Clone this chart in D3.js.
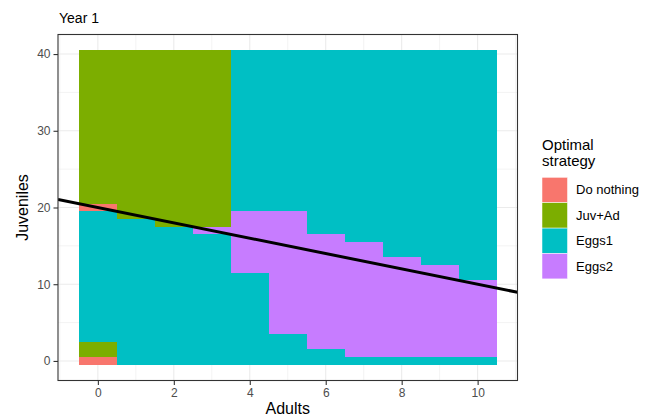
<!DOCTYPE html>
<html>
<head>
<meta charset="utf-8">
<script src="https://cdn.jsdelivr.net/npm/d3@7"></script>
<style>
  body { margin: 0; background: #fff; }
  text { font-family: "Liberation Sans", Arial, sans-serif; }
</style>
</head>
<body>
<svg id="chart"></svg>
<script>
// Legend order and colours (ggplot default hue palette)
const strategies = ['Do nothing', 'Juv+Ad', 'Eggs1', 'Eggs2'];
const colors = ['#F8766D', '#7CAE00', '#00BFC4', '#C77CFF'];

// Runs of tiles per column: [adults, juveniles from, juveniles to]
const doNothing = [[0, 0, 0], [0, 20, 20]];
const juvAd = [[0, 1, 2], [0, 21, 40], [1, 19, 40], [2, 18, 40], [3, 18, 40]];
const eggs1 = [
  [0, 3, 19], [1, 0, 18], [2, 0, 17], [3, 0, 16],
  [4, 0, 11], [4, 20, 40], [5, 0, 3], [5, 20, 40],
  [6, 0, 1], [6, 17, 40], [7, 0, 0], [7, 16, 40],
  [8, 0, 0], [8, 14, 40], [9, 0, 0], [9, 13, 40],
  [10, 0, 0], [10, 11, 40]
];
const eggs2 = [[3, 17, 17], [4, 12, 19], [5, 4, 19], [6, 2, 16], [7, 1, 15], [8, 1, 13], [9, 1, 12], [10, 1, 10]];

// Threshold line: juveniles = intercept + slope * adults
const lineIntercept = 20;
const lineSlope = -1;

const xTicks = [0, 2, 4, 6, 8, 10];
const xMinor = [-1, 1, 3, 5, 7, 9, 11];
const yTicks = [0, 10, 20, 30, 40];
const yMinor = [5, 15, 25, 35];

const tiles = [doNothing, juvAd, eggs1, eggs2].flatMap((runs, i) =>
  runs.map(r => ({ a: r[0], from: r[1], to: r[2], s: strategies[i] })));

// Set up the chart dimensions
const W = 652, H = 416;
const margin = { top: 34.5, right: 134.5, bottom: 35.5, left: 58 };
const width = W - margin.left - margin.right;
const height = H - margin.top - margin.bottom;

const svg = d3.select('#chart')
  .attr('width', W)
  .attr('height', H);

const g = svg.append('g')
  .attr('transform', `translate(${margin.left}, ${margin.top})`);

// Scales (tile extent -0.5..10.5 / -0.5..40.5 plus 5% expansion)
const xScale = d3.scaleLinear().domain([-1.05, 11.05]).range([0, width]);
const yScale = d3.scaleLinear().domain([-2.55, 42.55]).range([height, 0]);
const color = d3.scaleOrdinal().domain(strategies).range(colors);

// Grid
g.selectAll('.xminor').data(xMinor).enter().append('line')
  .attr('x1', d => xScale(d)).attr('x2', d => xScale(d))
  .attr('y1', 0).attr('y2', height)
  .attr('stroke', '#EBEBEB').attr('stroke-width', 0.6);
g.selectAll('.yminor').data(yMinor).enter().append('line')
  .attr('y1', d => yScale(d)).attr('y2', d => yScale(d))
  .attr('x1', 0).attr('x2', width)
  .attr('stroke', '#EBEBEB').attr('stroke-width', 0.6);
g.selectAll('.xmajor').data(xTicks).enter().append('line')
  .attr('x1', d => xScale(d)).attr('x2', d => xScale(d))
  .attr('y1', 0).attr('y2', height)
  .attr('stroke', '#EBEBEB').attr('stroke-width', 1.1);
g.selectAll('.ymajor').data(yTicks).enter().append('line')
  .attr('y1', d => yScale(d)).attr('y2', d => yScale(d))
  .attr('x1', 0).attr('x2', width)
  .attr('stroke', '#EBEBEB').attr('stroke-width', 1.1);

// Tiles
g.selectAll('.tile')
  .data(tiles)
  .enter()
  .append('rect')
  .attr('class', 'tile')
  .attr('x', d => xScale(d.a - 0.5))
  .attr('y', d => yScale(d.to + 0.5))
  .attr('width', d => xScale(d.a + 0.5) - xScale(d.a - 0.5))
  .attr('height', d => yScale(d.from - 0.5) - yScale(d.to + 0.5))
  .attr('fill', d => color(d.s))
  .attr('shape-rendering', 'crispEdges');

// Threshold line, clipped to panel
svg.append('clipPath').attr('id', 'panel')
  .append('rect').attr('width', width).attr('height', height);
const xd = xScale.domain();
g.append('line')
  .attr('clip-path', 'url(#panel)')
  .attr('x1', xScale(xd[0])).attr('y1', yScale(lineIntercept + lineSlope * xd[0]))
  .attr('x2', xScale(xd[1])).attr('y2', yScale(lineIntercept + lineSlope * xd[1]))
  .attr('stroke', '#000').attr('stroke-width', 3);

// Panel border
g.append('rect')
  .attr('width', width).attr('height', height)
  .attr('fill', 'none').attr('stroke', '#333333').attr('stroke-width', 1.1);

// Axes
const xAxis = g.append('g')
  .attr('transform', `translate(0, ${height})`)
  .call(d3.axisBottom(xScale).tickValues(xTicks).tickSize(4.5).tickPadding(3));
const yAxis = g.append('g')
  .call(d3.axisLeft(yScale).tickValues(yTicks).tickSize(4.5).tickPadding(3));

[xAxis, yAxis].forEach(ax => {
  ax.select('.domain').remove();
  ax.selectAll('.tick line').attr('stroke', '#333333').attr('stroke-width', 1.1);
  ax.selectAll('.tick text')
    .attr('fill', '#4D4D4D')
    .style('font-size', '12px')
    .style('font-family', '"Liberation Sans", Arial, sans-serif');
});

// Titles
svg.append('text')
  .attr('x', 59).attr('y', 23)
  .style('font-size', '14px')
  .text('Year 1');

svg.append('text')
  .attr('x', margin.left + width / 2).attr('y', 414)
  .attr('text-anchor', 'middle')
  .style('font-size', '16px')
  .text('Adults');

svg.append('text')
  .attr('transform', `translate(28, ${margin.top + height / 2}) rotate(-90)`)
  .attr('text-anchor', 'middle')
  .style('font-size', '16px')
  .text('Juveniles');

// Legend
const legend = svg.append('g').attr('transform', 'translate(542, 0)');
legend.append('text').attr('x', 0).attr('y', 150).style('font-size', '15px').text('Optimal');
legend.append('text').attr('x', 0).attr('y', 166).style('font-size', '15px').text('strategy');

const keySize = 25.4;
const keys = legend.selectAll('.key')
  .data(strategies)
  .enter()
  .append('g')
  .attr('transform', (d, i) => `translate(0, ${177.3 + i * keySize})`);
keys.append('rect')
  .attr('width', 25.5).attr('height', keySize)
  .attr('fill', d => color(d))
  .attr('stroke', '#fff').attr('stroke-width', 0.5);
keys.append('text')
  .attr('x', 34).attr('y', keySize / 2 + 4.5)
  .style('font-size', '13px')
  .text(d => d);
</script>
</body>
</html>
